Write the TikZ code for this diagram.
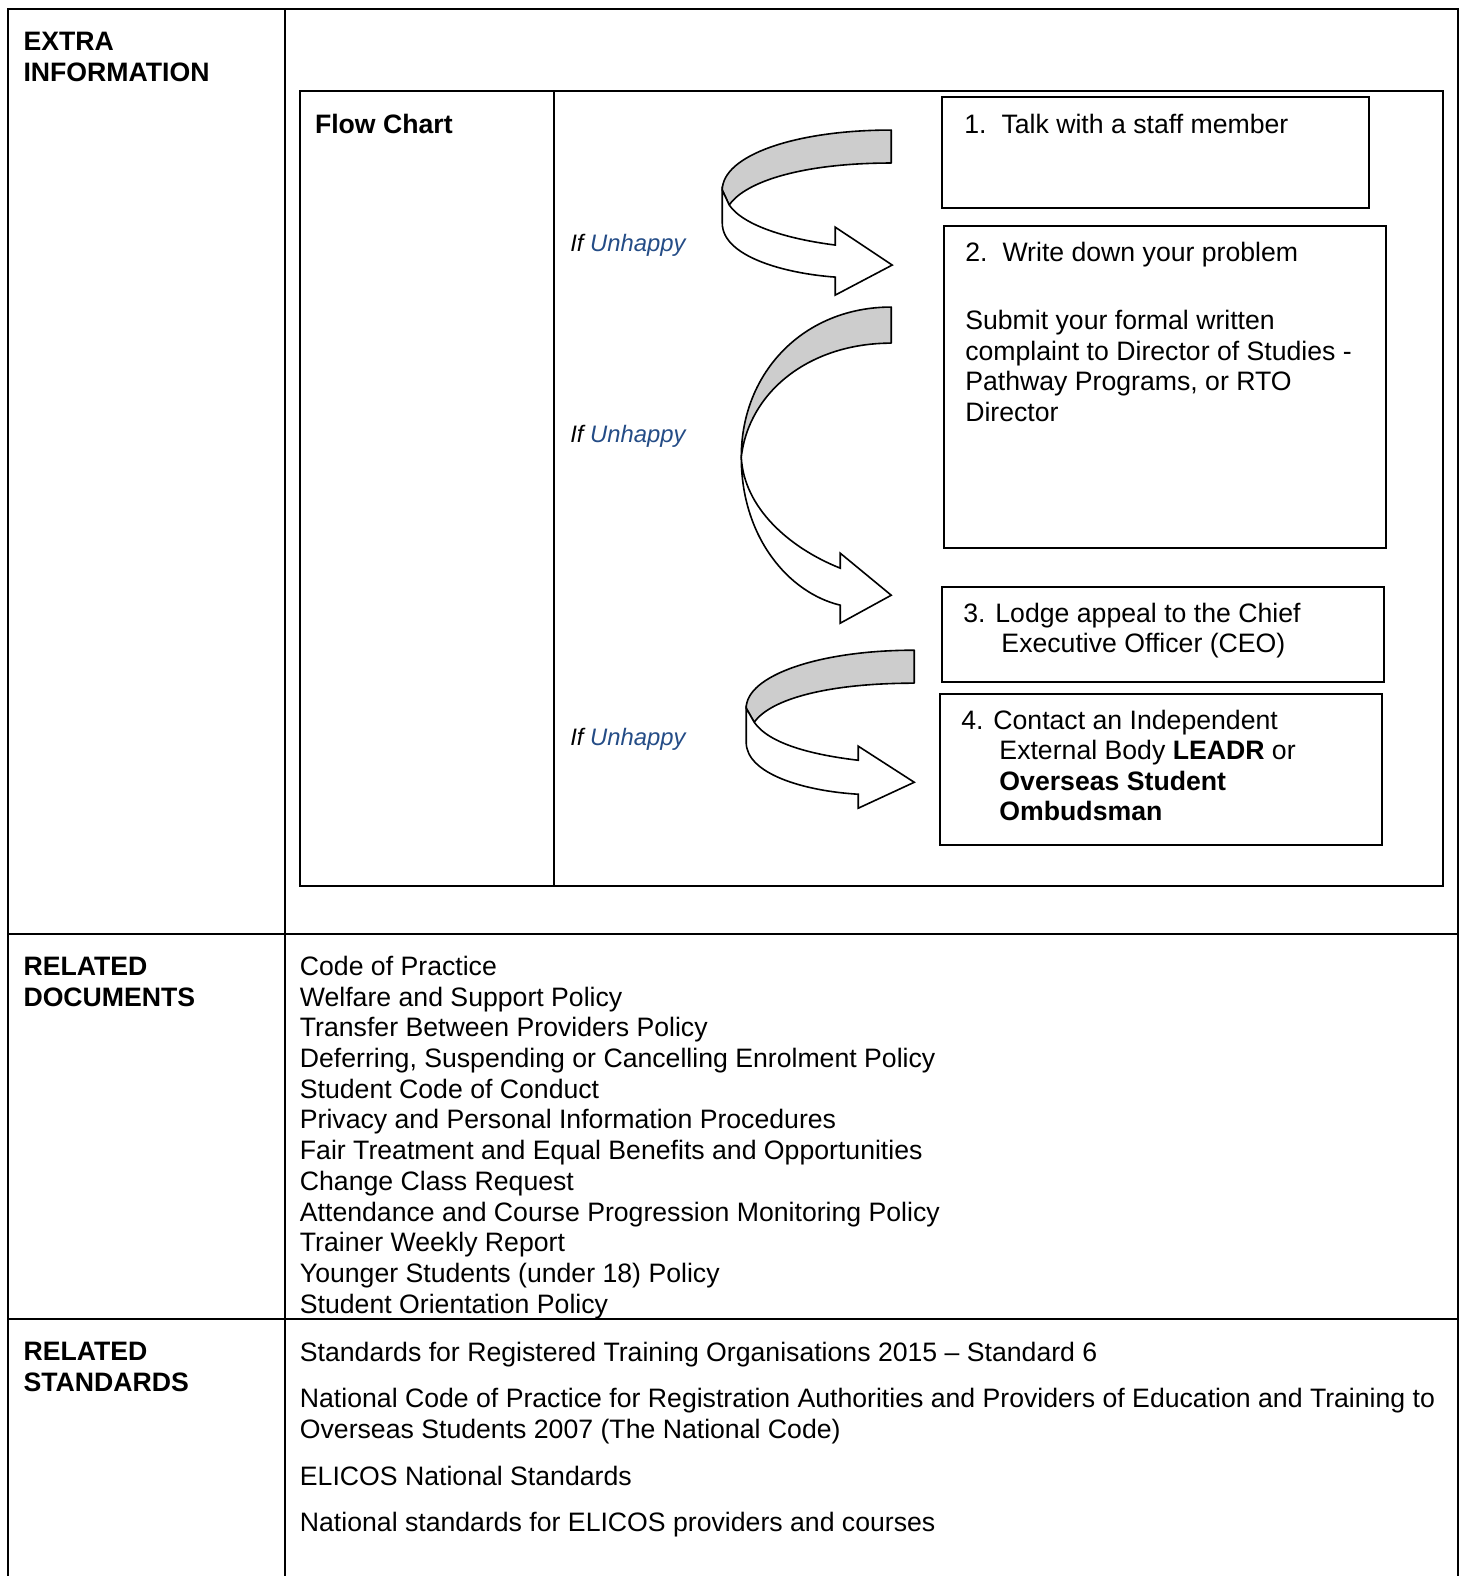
\documentclass[tikz,border=0pt]{standalone}
\usepackage{fontspec}
\setmainfont{Liberation Sans}
\definecolor{ublue}{RGB}{36,76,134}
\definecolor{bandgray}{RGB}{205,205,205}
\begin{document}
\begin{tikzpicture}[x=0.5024pt,y=-0.5024pt,
  txt/.style={anchor=base west,inner sep=0,font=\fontsize{13.32}{15.3}\selectfont},
  ifu/.style={anchor=base west,inner sep=0,font=\fontsize{11.9}{14}\selectfont\itshape},
  rule/.style={line width=1pt},
  stepbox/.style={draw,line width=1pt},
  band/.style={draw,line width=0.8pt,fill=bandgray,line join=round},
  front/.style={draw,line width=0.8pt,fill=white,line join=miter}]
\useasboundingbox (0,0) rectangle (1457,1568);
% outer table
\draw[rule] (8,1568) -- (8,9) -- (1451,9) -- (1451,1568);
\draw[rule] (284,9) -- (284,1568);
\draw[rule] (8,929) -- (1451,929);
\draw[rule] (8,1312) -- (1451,1312);
% inner table
\draw[rule] (298,91) rectangle (1436,881);
\draw[rule] (551,91) -- (551,881);
% left headers
\node[txt] (h1) at (23,50.5) {\bfseries EXTRA};
\node[txt] (h2) at (23,81.5) {\bfseries INFORMATION};
\node[txt] (h3) at (23,970.5) {\bfseries RELATED};
\node[txt] (h4) at (23,1001.5) {\bfseries DOCUMENTS};
\node[txt] (h5) at (23,1353.5) {\bfseries RELATED};
\node[txt] (h6) at (23,1384.5) {\bfseries STANDARDS};
\node[txt] (fc) at (313,132.5) {\bfseries Flow Chart};
% boxes
\draw[stepbox] (937,97) rectangle (1362,207);
\draw[stepbox] (939,225) rectangle (1379,545);
\draw[stepbox] (937,584) rectangle (1377,679);
\draw[stepbox] (935,690) rectangle (1375,841);
% box texts
\node[txt] (t1) at (959,132.5) {\makebox[18.6pt][l]{1.}Talk with a staff member};
\node[txt] (t2) at (960,260.5) {\makebox[18.6pt][l]{2.}Write down your problem};
\node[txt] (t2a) at (960,327.5) {Submit your formal written};
\node[txt] (t2b) at (960,358.5) {complaint to Director of Studies -};
\node[txt] (t2c) at (960,388.5) {Pathway Programs, or RTO};
\node[txt] (t2d) at (960,419.5) {Director};
\node[txt] (t3) at (958,619.5) {3. Lodge appeal to the Chief};
\node[txt] (t3a) at (996,649.5) {Executive Officer (CEO)};
\node[txt] (t4) at (956,725.5) {4. Contact an Independent};
\node[txt] (t4a) at (994,755.5) {External Body \textbf{LEADR} or};
\node[txt] (t4b) at (994,786.5) {\bfseries Overseas Student};
\node[txt] (t4c) at (994,816.5) {\bfseries Ombudsman};
% if unhappy
\node[ifu] (u1) at (567,250.5) {If \textcolor{ublue}{Unhappy}};
\node[ifu] (u2) at (567,440.5) {If \textcolor{ublue}{Unhappy}};
\node[ifu] (u3) at (567,741.5) {If \textcolor{ublue}{Unhappy}};
% arrow 1
\draw[band] (886.7,129.4) .. controls (790,129.4) and (718.6,155) .. (718.6,189.1)
  -- (725.5,204) .. controls (742,180) and (800,162.2) .. (886.7,162.2) -- cycle;
\draw[front] (718.6,189.1) -- (718.6,222) .. controls (718.6,255) and (780,272) .. (831,275.7)
  -- (831,293.6) -- (887.7,263.7) -- (831,226) -- (831,243.8)
  .. controls (785,238) and (740,225) .. (725.5,204) -- cycle;
% arrow 2
\draw[band] (886.7,305.5) .. controls (800,305.5) and (737.5,370) .. (737.5,454.8)
  .. controls (745,390) and (805,341.4) .. (886.7,341.4) -- cycle;
\draw[front] (737.5,454.8) .. controls (737.5,535) and (785,590) .. (836,602.1)
  -- (836,620) -- (886.7,592.2) -- (836,550.4) -- (836,565.3)
  .. controls (785,545) and (740,505) .. (737.5,454.8) -- cycle;
% arrow 3
\draw[band] (909.6,646.9) .. controls (815,646.9) and (742.4,672) .. (742.4,704.6)
  -- (750.4,718.6) .. controls (767,695) and (825,679.7) .. (909.6,679.7) -- cycle;
\draw[front] (742.4,704.6) -- (742.4,738.5) .. controls (742.4,770) and (800,787) .. (853.9,790.2)
  -- (853.9,804.1) -- (909.6,778.3) -- (853.9,742.4) -- (853.9,756.4)
  .. controls (808,751) and (765,740) .. (750.4,718.6) -- cycle;
% related documents
\foreach \t [count=\i] in {Code of Practice, Welfare and Support Policy, Transfer Between Providers Policy, {Deferring, Suspending or Cancelling Enrolment Policy}, Student Code of Conduct, Privacy and Personal Information Procedures, Fair Treatment and Equal Benefits and Opportunities, Change Class Request, Attendance and Course Progression Monitoring Policy, Trainer Weekly Report, Younger Students (under 18) Policy, Student Orientation Policy}
  \node[txt] (doc\i) at (298,{970.5+(\i-1)*30.55}) {\t};
% related standards
\node[txt] (s1) at (298,1354.5) {Standards for Registered Training Organisations 2015 -- Standard 6};
\node[txt] (s2) at (298,1400.5) {National Code of Practice for Registration Authorities and Providers of Education and Training to};
\node[txt] (s2a) at (298,1431.5) {Overseas Students 2007 (The National Code)};
\node[txt] (s3) at (298,1477.5) {ELICOS National Standards};
\node[txt] (s4) at (298,1523.5) {National standards for ELICOS providers and courses};
\end{tikzpicture}
\end{document}
